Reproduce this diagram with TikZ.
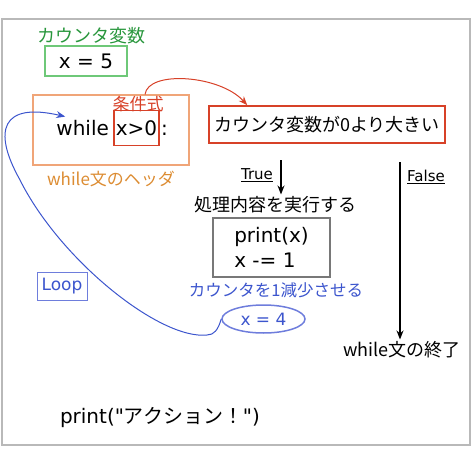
\documentclass[tikz,border=0pt]{standalone}
\usepackage{fontspec}
\setmainfont{DejaVu Sans}
\newfontfamily\jp{Noto Sans CJK JP}
\usetikzlibrary{positioning,shapes.geometric,arrows.meta}
\definecolor{counterGreen}{RGB}{40,150,60}
\definecolor{counterBoxGreen}{RGB}{110,200,120}
\definecolor{headerOrange}{RGB}{240,165,120}
\definecolor{headerTextOrange}{RGB}{220,140,50}
\definecolor{condRed}{RGB}{215,65,40}
\definecolor{loopBlue}{RGB}{60,85,205}
\definecolor{loopBoxBlue}{RGB}{110,125,220}
\definecolor{frameGray}{RGB}{185,185,185}
\definecolor{bodyGray}{RGB}{120,120,120}
\tikzstyle{canvas} = [x=1pt, y=-1pt]
\tikzstyle{codeText} = [font=\fontsize{20}{25}\selectfont, inner sep=3pt]
\tikzstyle{jpText} = [font=\jp\fontsize{18}{22}\selectfont, inner sep=2pt]
\tikzstyle{smallJp} = [font=\jp\fontsize{17}{20}\selectfont, inner sep=2pt]
\tikzstyle{tinyJp} = [font=\jp\fontsize{16.5}{19}\selectfont, inner sep=2pt]
\tikzstyle{labelText} = [font=\fontsize{15}{18}\selectfont, inner sep=2pt]
\tikzstyle{boxLine} = [line width=1.5pt]
\tikzstyle{headerFrame} = [boxLine, draw=headerOrange, minimum width=156pt, minimum height=70pt]
\tikzstyle{condFrame} = [codeText, boxLine, draw=condRed, inner xsep=2pt, minimum width=45pt, minimum height=35pt, text height=14pt, text depth=0pt]
\tikzstyle{flowArrow} = [-{Stealth[length=9pt,width=7pt]}, line width=1.5pt]
\tikzstyle{condArrow} = [-{Stealth[length=9pt,width=7pt]}, line width=1pt, color=condRed]
\tikzstyle{loopArrow} = [-{Stealth[length=9pt,width=7pt]}, line width=1pt, color=loopBlue]

\begin{document}
\begin{tikzpicture}[canvas]
  \useasboundingbox (0,0) rectangle (474,463);
  \draw [frameGray, line width=2pt] (2,19) rectangle (470,445);

  % counter
  \node [jpText, text=counterGreen] (counterLabel) at (91,36) {カウンタ変数};
  \node [codeText, boxLine, draw=counterBoxGreen, minimum width=82pt, minimum height=30pt] (counterInit) at (86,61) {x = 5};

  % while header
  \node [headerFrame] (headerBox) at (111,130) {};
  \node [condFrame] (cond) at (136.5,128) {x>0};
  \node [codeText, anchor=base east] (whileKw) at ([xshift=-1pt]cond.base west) {while};
  \node [codeText, anchor=base west, inner sep=1pt] (colon) at (cond.base east) {:};
  \node [smallJp, text=condRed] (condLabel) at (138,104.5) {条件式};
  \node [smallJp, text=headerTextOrange, below=3pt of headerBox] (headerLabel) {while文のヘッダ};

  % condition
  \node [jpText, boxLine, draw=condRed, minimum width=236pt, minimum height=37pt] (condText) at (327,124.5) {カウンタ変数が0より大きい};
  \draw [condArrow] ([xshift=7pt]condLabel.north) .. controls (148,70) and (220,75) .. ([xshift=39pt]condText.north west);

  % true branch
  \coordinate (trueStart) at (281,160);
  \node [labelText] (trueLabel) at (257,175) {\underline{True}};
  \node [jpText] (processLabel) at (275,205) {処理内容を実行する};
  \draw [flowArrow] (trueStart) -- (trueStart |- processLabel.north);
  \node [codeText, boxLine, draw=bodyGray, align=left, minimum width=117pt, minimum height=59pt] (loopBody) at (271.5,247.5) {print(x)\\x -= 1};
  \node [tinyJp, text=loopBlue] (decrementLabel) at (276,290) {カウンタを1減少させる};
  \node [ellipse, boxLine, draw=loopBoxBlue, text=loopBlue, font=\fontsize{17}{20}\selectfont, minimum width=83pt, minimum height=28pt, inner sep=1pt] (decremented) at (263.5,319) {x = 4};

  % loop back
  \node [boxLine, line width=1pt, draw=loopBoxBlue, text=loopBlue, font=\fontsize{17}{20}\selectfont, minimum width=50pt, minimum height=28pt, inner sep=2pt] (loopLabel) at (62,286) {Loop};
  \draw [loopArrow] (decremented.west) .. controls (218,330) and (214,335) .. (207,335)
    .. controls (160,340) and (60,260) .. (20,180)
    .. controls (-8,130) and (2,102) .. ([xshift=12pt]whileKw.north west);

  % false branch
  \coordinate (falseStart) at (400,162);
  \node [labelText] (falseLabel) at (426,177) {\underline{False}};
  \node [jpText] (endLabel) at (402,350) {while文の終了};
  \draw [flowArrow] (falseStart) -- (falseStart |- endLabel.north);

  % after loop
  \node [codeText] (actionCall) at (160,418) {print(\textquotedbl{\jp アクション！}\textquotedbl)};
\end{tikzpicture}
\end{document}
